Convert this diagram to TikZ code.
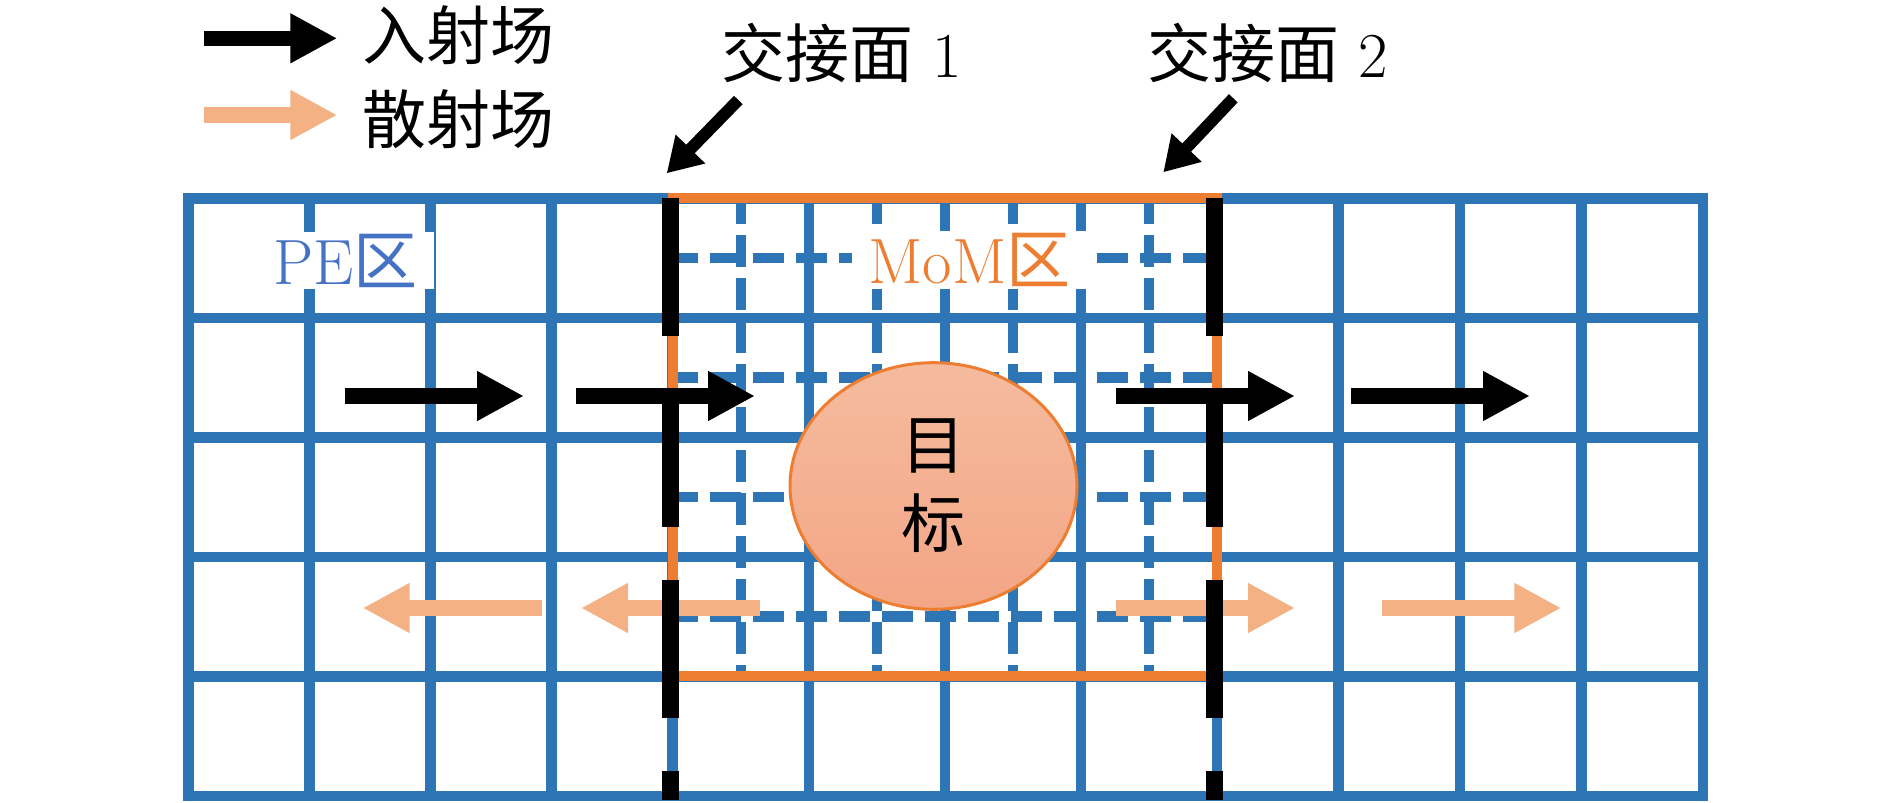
\documentclass[tikz,border=0pt]{standalone}
\usepackage{fontspec}
\newfontfamily\cjk{Noto Sans CJK SC}
\usetikzlibrary{arrows.meta,shapes.geometric}
\definecolor{gridblue}{RGB}{46,117,182}
\definecolor{momorange}{RGB}{237,125,49}
\definecolor{scatorange}{RGB}{244,177,131}
\definecolor{peblue}{RGB}{68,114,196}
\definecolor{tgttop}{RGB}{245,187,158}
\definecolor{tgtbot}{RGB}{243,166,134}
\begin{document}
\begin{tikzpicture}[x=0.5pt,y=-0.5pt,
  gridline/.style={draw=gridblue,line width=5.3pt,line cap=rect},
  gridfine/.style={draw=gridblue,line width=5.3pt,dash pattern=on 15.75pt off 5.75pt,dash phase=3pt},
  momframe/.style={draw=momorange,line width=5pt},
  ifaceline/.style={draw=black,line width=8.5pt,dash pattern=on 68.75pt off 26.75pt},
  incarrow/.style={draw=black,line width=7.8pt,-{Triangle[length=23.5pt,width=23.3pt]}},
  scatarrow/.style={draw=scatorange,line width=7.8pt,-{Triangle[length=23.5pt,width=23.3pt]}},
  notearrow/.style={draw=black,line width=6pt,-{Triangle[length=17pt,width=19.5pt]}},
  lbl/.style={font=\fontsize{32}{38}\selectfont,inner sep=0pt},
  zonelbl/.style={font=\fontsize{32}{38}\selectfont,fill=white,inner xsep=8pt,inner ysep=1pt},
]
\fill[white] (0,0) rectangle (1890,803);
\useasboundingbox (0,0) rectangle (1890,803);

% coarse grid
\foreach \yy in {198.3,317.8,437.3,556.8,676.3,795.8}
  \draw[gridline] (188.3,\yy) -- (1703,\yy);
\foreach \xx in {188.3,309.5,430.5,551.5,672.7,809,945,1081,1217,1338.5,1460,1581.5,1703}
  \draw[gridline] (\xx,198.3) -- (\xx,795.8);

% fine (dashed) grid inside MoM region
\foreach \xx in {741,877,1013,1149}
  \draw[gridfine] (\xx,198.3) -- (\xx,676.3);
\foreach \yy in {258,377.5,497,616.5}
  \draw[gridfine] (672.7,\yy) -- (1217,\yy);

% MoM region frame
\draw[momframe] (672.7,198.3) rectangle (1217,676.3);

% target
\node[ellipse,draw=momorange,line width=1.5pt,top color=tgttop,bottom color=tgtbot,
      minimum width=143.5pt,minimum height=123.3pt,inner sep=0pt,align=center,
      font=\fontsize{32}{39.5}\selectfont\cjk] (target) at (933.5,486) {目\\标};

% scattered field arrows
\coordinate (s1s) at (541.7,608); \coordinate (s1e) at (362.7,608);
\coordinate (s2s) at (760,608);   \coordinate (s2e) at (581,608);
\coordinate (s3s) at (1116,608);  \coordinate (s3e) at (1295,608);
\coordinate (s4s) at (1382.3,608);\coordinate (s4e) at (1561.3,608);
\draw[scatarrow] (s1s) -- (s1e);
\draw[scatarrow] (s2s) -- (s2e);
\draw[scatarrow] (s3s) -- (s3e);
\draw[scatarrow] (s4s) -- (s4e);

% interfaces
\coordinate (if1top) at (670.7,198.3); \coordinate (if1bot) at (670.7,800);
\coordinate (if2top) at (1214.4,198.3); \coordinate (if2bot) at (1214.4,800);
\draw[ifaceline] (if1top) -- (if1bot);
\draw[ifaceline] (if2top) -- (if2bot);

% incident field arrows
\coordinate (i1s) at (345,396);   \coordinate (i1e) at (524,396);
\coordinate (i2s) at (576,396);   \coordinate (i2e) at (755,396);
\coordinate (i3s) at (1116,396);  \coordinate (i3e) at (1295,396);
\coordinate (i4s) at (1351,396);  \coordinate (i4e) at (1530,396);
\draw[incarrow] (i1s) -- (i1e);
\draw[incarrow] (i2s) -- (i2e);
\draw[incarrow] (i3s) -- (i3e);
\draw[incarrow] (i4s) -- (i4e);

% legend
\coordinate (lgIs) at (204,38.3);  \coordinate (lgIe) at (337.3,38.3);
\coordinate (lgSs) at (204,115);   \coordinate (lgSe) at (337.3,115);
\draw[incarrow] (lgIs) -- (lgIe);
\draw[scatarrow] (lgSs) -- (lgSe);
\node[lbl] (lgItxt) at (458,35) {\cjk 入射场};
\node[lbl] (lgStxt) at (458,119) {\cjk 散射场};

% interface labels
\node[lbl] (if1txt) at (841.7,52.5) {{\cjk 交接面} 1};
\node[lbl] (if2txt) at (1267.5,52.5) {{\cjk 交接面} 2};
\coordinate (n1s) at (738.3,100);  \coordinate (n1e) at (666.7,173.3);
\coordinate (n2s) at (1233.3,98.3); \coordinate (n2e) at (1163.3,172.3);
\draw[notearrow] (n1s) -- (n1e);
\draw[notearrow] (n2s) -- (n2e);

% zone labels
\node[zonelbl,text=peblue] (pe) at (345.5,260.5) {PE{\cjk 区}};
\node[zonelbl,text=momorange] (mom) at (969.5,260) {MoM{\cjk 区}};
\end{tikzpicture}
\end{document}
